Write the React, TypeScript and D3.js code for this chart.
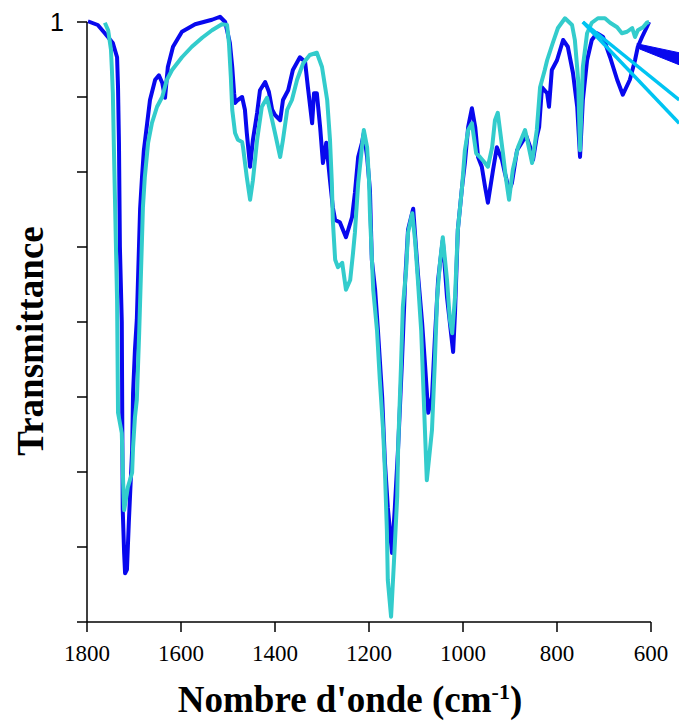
import React from "react";
import * as d3 from "d3";

// Wavenumber (cm-1) and transmittance
const blueWn = [1798,1794,1777,1762,1745,1736,1734,1732,1730,1726,1724,1721,1719,1715,1711,1704,1702,1698,1694,1687,1683,1679,1672,1666,1655,1647,1640,1634,1628,1617,1598,1570,1534,1517,1506,1496,1491,1487,1485,1479,1470,1464,1460,1453,1447,1438,1432,1421,1413,1406,1400,1389,1383,1372,1362,1347,1336,1330,1321,1317,1311,1304,1298,1291,1283,1277,1272,1262,1249,1236,1230,1223,1215,1211,1204,1198,1194,1187,1181,1172,1166,1160,1151,1145,1138,1130,1123,1117,1106,1096,1087,1081,1074,1066,1060,1053,1045,1043,1034,1021,1017,1011,1002,996,989,981,974,968,960,953,947,936,928,917,911,902,896,885,874,866,857,851,843,838,832,821,817,811,800,787,777,766,757,751,745,736,726,715,702,687,672,660,645,634,628,619,609,604];
const blueT = [1.001,1.0,0.996,0.985,0.972,0.953,0.913,0.839,0.7,0.6,0.35,0.292,0.265,0.27,0.333,0.429,0.505,0.563,0.603,0.751,0.793,0.829,0.865,0.896,0.923,0.929,0.919,0.899,0.94,0.967,0.987,0.997,1.003,1.007,1.0,0.972,0.94,0.905,0.892,0.896,0.9,0.883,0.852,0.807,0.843,0.879,0.909,0.92,0.907,0.883,0.876,0.869,0.896,0.909,0.936,0.953,0.947,0.913,0.865,0.905,0.905,0.86,0.812,0.839,0.789,0.753,0.736,0.733,0.713,0.74,0.772,0.82,0.839,0.852,0.82,0.776,0.683,0.643,0.589,0.5,0.412,0.353,0.292,0.353,0.433,0.545,0.656,0.723,0.751,0.665,0.599,0.545,0.479,0.5,0.576,0.656,0.699,0.709,0.633,0.56,0.612,0.723,0.78,0.812,0.86,0.885,0.86,0.82,0.807,0.78,0.759,0.803,0.833,0.816,0.799,0.776,0.785,0.829,0.84,0.849,0.833,0.816,0.847,0.86,0.913,0.905,0.887,0.936,0.949,0.976,0.967,0.932,0.887,0.82,0.896,0.949,0.976,0.985,0.98,0.953,0.923,0.903,0.923,0.949,0.967,0.98,0.993,1.0];

const cyanWn = [1762,1755,1749,1747,1745,1743,1736,1734,1726,1723,1721,1713,1704,1702,1698,1694,1689,1681,1677,1670,1662,1651,1640,1630,1619,1598,1577,1555,1534,1513,1502,1498,1494,1491,1485,1479,1470,1468,1460,1453,1447,1438,1428,1417,1406,1400,1389,1383,1374,1364,1353,1340,1326,1311,1300,1289,1283,1279,1277,1272,1266,1257,1249,1240,1234,1230,1223,1215,1211,1204,1200,1198,1191,1183,1177,1170,1166,1162,1160,1153,1147,1140,1138,1132,1128,1121,1117,1108,1102,1096,1089,1085,1081,1077,1066,1060,1055,1049,1043,1034,1028,1023,1017,1011,1002,996,989,981,972,964,953,947,938,932,926,915,909,902,894,883,868,862,853,843,836,826,821,809,798,783,768,762,755,751,745,736,726,713,698,687,672,662,651,640,634,628,617,609,604];
const cyanT = [0.999,0.989,0.963,0.936,0.905,0.839,0.629,0.479,0.452,0.385,0.349,0.38,0.399,0.433,0.473,0.496,0.585,0.753,0.793,0.839,0.865,0.887,0.9,0.923,0.936,0.953,0.967,0.979,0.989,0.997,0.996,0.972,0.927,0.883,0.852,0.843,0.84,0.833,0.793,0.763,0.789,0.843,0.887,0.899,0.869,0.852,0.82,0.843,0.883,0.896,0.923,0.945,0.956,0.959,0.94,0.896,0.843,0.785,0.736,0.683,0.673,0.679,0.643,0.656,0.692,0.719,0.785,0.833,0.856,0.833,0.789,0.745,0.643,0.589,0.523,0.456,0.399,0.323,0.256,0.207,0.279,0.367,0.433,0.54,0.62,0.669,0.719,0.745,0.709,0.656,0.589,0.523,0.456,0.389,0.456,0.545,0.633,0.679,0.713,0.656,0.603,0.585,0.633,0.723,0.78,0.829,0.856,0.865,0.825,0.82,0.812,0.807,0.833,0.869,0.879,0.825,0.793,0.763,0.803,0.833,0.856,0.839,0.812,0.856,0.913,0.936,0.949,0.972,0.992,1.005,0.996,0.976,0.923,0.829,0.94,0.985,0.999,1.005,1.005,0.999,0.993,0.985,0.987,0.992,0.98,0.989,0.993,0.999,1.0];

// Stray straight strokes at the top right (extending beyond the axis)
const strayLineA = [[745, 1.0], [540, 0.896]];
const strayLineB = [[745, 1.0], [540, 0.865]];
const strayWedge = [[630, 0.971], [540, 0.959], [540, 0.943], [624, 0.964]];

const xTicks = [1800, 1600, 1400, 1200, 1000, 800, 600];
const yTicks = [0.2, 0.3, 0.4, 0.5, 0.6, 0.7, 0.8, 0.9, 1.0];
const yTickLabels: Record<string, string> = { "1": "1" };

export default function App() {
  const W = 679, H = 724;
  const x = d3.scaleLinear().domain([1800, 600]).range([87, 651]);
  const y = d3.scaleLinear().domain([0.2, 1.0]).range([622, 22]);
  const line = d3.line<[number, number]>().x((d) => x(d[0])).y((d) => y(d[1]));
  const blue = blueWn.map((w, i) => [w, blueT[i]] as [number, number]);
  const cyan = cyanWn.map((w, i) => [w, cyanT[i]] as [number, number]);
  const serif = "'Liberation Serif', 'Times New Roman', serif";
  return (
    <svg width={W} height={H} style={{ position: "absolute", left: 0, top: 0, background: "#fff" }}>
      <path d={line(blue) || ""} fill="none" stroke="#0808EE" strokeWidth={4} strokeLinejoin="round" />
      <path d={line(cyan) || ""} fill="none" stroke="#33CCCC" strokeWidth={4} strokeLinejoin="round" />
      <path d={line(strayLineA as [number, number][]) || ""} stroke="#00C4F2" strokeWidth={3.5} fill="none" />
      <path d={line(strayLineB as [number, number][]) || ""} stroke="#00C4F2" strokeWidth={3.5} fill="none" />
      <path d={(line(strayWedge as [number, number][]) || "") + "Z"} fill="#0808EE" stroke="#0808EE" strokeWidth={1} />
      {/* y axis */}
      <line x1={87} x2={87} y1={y(1.0)} y2={y(0.2)} stroke="#000" strokeWidth={1.5} />
      {yTicks.map((t) => (
        <g key={t}>
          <line x1={77} x2={87} y1={y(t)} y2={y(t)} stroke="#000" strokeWidth={1.5} />
          {yTickLabels[String(t)] && (
            <text x={64} y={y(t) + 9} textAnchor="end" fontFamily="'Liberation Sans', Arial, sans-serif" fontSize={25}>
              {yTickLabels[String(t)]}
            </text>
          )}
        </g>
      ))}
      {/* x axis */}
      <line x1={87} x2={651} y1={622} y2={622} stroke="#000" strokeWidth={1.5} />
      {xTicks.map((t) => (
        <g key={t}>
          <line x1={x(t)} x2={x(t)} y1={622} y2={632} stroke="#000" strokeWidth={1.5} />
          <text x={x(t)} y={661} textAnchor="middle" fontFamily={serif} fontSize={23}>
            {t}
          </text>
        </g>
      ))}
      <text x={350} y={712} textAnchor="middle" fontFamily={serif} fontWeight="bold" fontSize={37}>
        Nombre d'onde (cm<tspan dy={-13} fontSize={22}>-1</tspan><tspan dy={13}>)</tspan>
      </text>
      <text transform="translate(43,341) rotate(-90)" textAnchor="middle" fontFamily={serif} fontWeight="bold" fontSize={37}>
        Transmittance
      </text>
    </svg>
  );
}
